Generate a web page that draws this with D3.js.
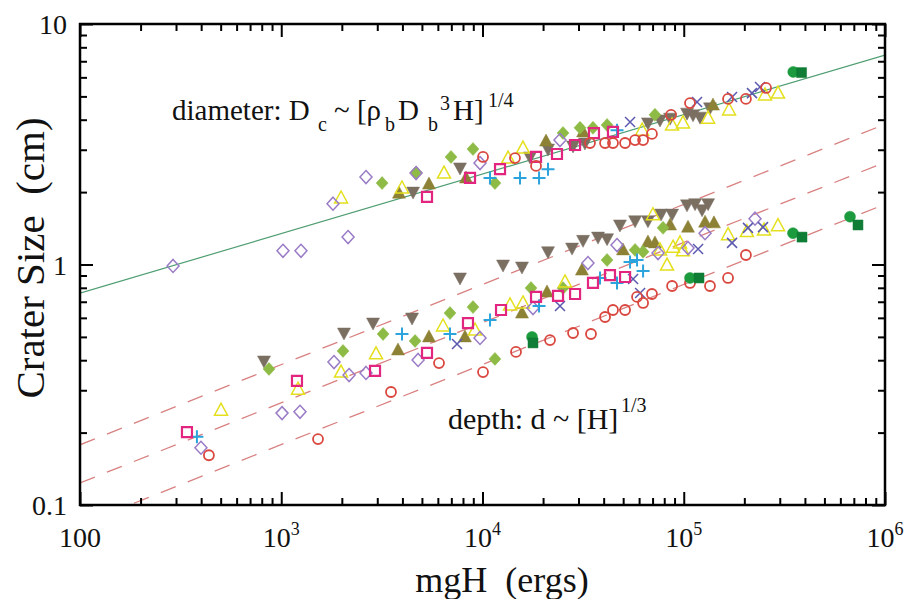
<!DOCTYPE html>
<html lang="en">
<head>
<meta charset="utf-8">
<title>Crater Size</title>
<style type="text/css">
  body { margin: 0; background: #fff; }
  svg text { font-family: "Liberation Serif", "Times New Roman", serif; fill: #111; white-space: pre; }
</style>
</head>
<body>
<svg id="chart" width="906" height="599"></svg>

<script src="https://cdnjs.cloudflare.com/ajax/libs/d3/7.8.5/d3.min.js"></script>
<script type="text/javascript">
// axis setup
var xMajor = [100, 1e3, 1e4, 1e5, 1e6];
var xTickBase = ["100", "10", "10", "10", "10"];
var xTickExp = ["", "3", "4", "5", "6"];
var yMajor = [0.1, 1, 10];
var yTickLabels = ["0.1", "1", "10"];

// fit lines, end points [mgH, size]
var fitDiameter = [[100, 0.76], [1e6, 7.43]];
var fitDepthA = [[100, 0.178], [1e6, 3.83]];
var fitDepthB = [[100, 0.1235], [1e6, 2.66]];
var fitDepthC = [[100, 0.0828], [1e6, 1.78]];

// data: [mgH (ergs), size (cm)]
var redCircleDiam = [[10060,2.80],[14500,2.77],[18450,2.57],[34200,3.20],[40640,3.20],[44500,3.20],[51100,3.20],[57300,3.29],[62800,3.29],[69500,3.49],[86500,4.19],[107400,4.69],[166000,4.88],[203700,4.88],[256400,5.42]];
var redCircleDepth = [[437,0.161],[1523,0.188],[3510,0.295],[6080,0.389],[10060,0.357],[14670,0.433],[21650,0.485],[28180,0.519],[34600,0.514],[40640,0.605],[44500,0.647],[51100,0.647],[58600,0.733],[62800,0.692],[69500,0.754],[87500,0.814],[107400,0.838],[135000,0.814],[166000,0.879],[203700,1.095]];

var magentaSqDiam = [[5300,1.91],[8670,2.29],[12220,2.49],[18450,2.80],[23450,2.88],[28840,3.14],[35800,3.52],[44500,3.56]];
var magentaSqDepth = [[340,0.201],[1197,0.328],[2924,0.361],[5300,0.429],[8470,0.571],[12360,0.647],[18450,0.733],[23730,0.740],[28840,0.754],[35400,0.838],[43000,0.904],[51100,0.887]];

var cyanPlusDiam = [[10900,2.29],[15360,2.29],[19100,2.29],[21160,2.49],[46600,3.62]];
var cyanPlusDepth = [[381,0.192],[3981,0.514],[6895,0.514],[10900,0.588],[19100,0.672],[38370,0.879],[46600,0.838],[54100,1.024],[58600,1.044],[62800,0.940]];

var blueXDiam = [[54100,3.91],[116400,4.74],[173800,4.97],[218300,5.16],[239300,5.47]];
var blueXDepth = [[7470,0.467],[24270,0.672],[56000,0.871],[60700,0.761],[117800,1.16],[173800,1.23],[208500,1.42],[247700,1.43]];

var purpleDiamondDiam = [[290,0.986],[1020,1.14],[1253,1.14],[2148,1.30],[1808,1.79],[2637,2.31],[4677,2.40],[9720,2.64],[24270,3.29]];
var purpleDiamondDepth = [[399,0.173],[1009,0.241],[1239,0.244],[1828,0.393],[2173,0.347],[2637,0.354],[4786,0.401],[9720,0.495],[17820,0.659],[33420,1.014],[46600,1.205],[74500,1.116],[105000,1.17],[127600,1.35],[226000,1.55]];

var yellowTriDiam = [[1982,1.89],[3981,2.08],[6440,2.40],[13400,2.77],[15890,3.05],[62100,3.62],[87500,3.80],[99100,3.88],[132100,4.06],[167900,4.39],[253300,5.07],[294000,5.16]];
var yellowTriDepth = [[502,0.248],[1211,0.303],[1982,0.357],[2958,0.425],[6368,0.555],[9180,0.534],[13700,0.679],[15890,0.692],[25700,0.846],[70300,1.61],[76200,1.15],[82600,0.995],[88500,1.18],[95800,1.23],[99100,1.14],[166000,1.33],[206000,1.37],[250600,1.39],[294000,1.45]];

var oliveTriDiam = [[3846,1.98],[5420,2.16],[8280,2.29],[20690,3.26],[31600,3.56],[139700,4.60]];
var oliveTriDepth = [[3802,0.441],[5420,0.500],[8180,0.500],[15710,0.628],[20920,0.769],[31200,0.948],[49900,1.15],[66400,1.24],[71940,1.23],[85500,1.46],[105000,1.43],[127600,1.50],[141300,1.49]];

var grayDownDiam = [[4519,2.00],[7730,2.52],[17220,2.80],[21160,3.02],[28180,3.11],[32300,3.20],[66400,3.88],[76200,3.99],[85500,4.06],[103800,4.26],[111200,4.19],[120500,4.10],[135000,4.48]];
var grayDownDepth = [[821,0.397],[2050,0.519],[2858,0.571],[4467,0.599],[7730,0.879],[12650,0.995],[15710,0.976],[21160,1.13],[27860,1.17],[31600,1.26],[37500,1.30],[41590,1.28],[48200,1.46],[57300,1.52],[66400,1.52],[77100,1.62],[87500,1.62],[103800,1.77],[113800,1.79],[123300,1.69],[132100,1.79]];

var greenDiamondDiam = [[3170,2.18],[4677,2.41],[6975,2.80],[8970,3.02],[11530,2.18],[25120,3.52],[30520,3.70],[35400,3.70],[41590,3.80],[71940,4.19]];
var greenDiamondDepth = [[869,0.368],[2027,0.437],[3206,0.514],[4624,0.481],[6895,0.628],[8970,0.665],[11530,0.405],[17420,0.798],[25120,0.798],[41590,1.044],[57300,1.15],[62800,1.13],[78900,1.42]];

var greenCircleDiam = [[350000,6.32]];
var greenCircleDepth = [[17620,0.500],[107400,0.879],[349000,1.35],[670000,1.58]];
var greenSquareDiam = [[385000,6.28]];
var greenSquareDepth = [[17820,0.472],[119100,0.879],[387000,1.30],[734000,1.46]];

var series = [
  {shape: "tridown", color: "#7b6f62", fill: true, pts: grayDownDiam.concat(grayDownDepth)},
  {shape: "triup", color: "#8c8134", fill: true, pts: oliveTriDiam.concat(oliveTriDepth)},
  {shape: "diamond", color: "#8dbb45", fill: true, pts: greenDiamondDiam.concat(greenDiamondDepth)},
  {shape: "triup", color: "#e4e01e", fill: false, pts: yellowTriDiam.concat(yellowTriDepth)},
  {shape: "diamond", color: "#9a7cc6", fill: false, pts: purpleDiamondDiam.concat(purpleDiamondDepth)},
  {shape: "x", color: "#5b58b0", fill: false, pts: blueXDiam.concat(blueXDepth)},
  {shape: "plus", color: "#2ba3dc", fill: false, pts: cyanPlusDiam.concat(cyanPlusDepth)},
  {shape: "square", color: "#e2267f", fill: false, pts: magentaSqDiam.concat(magentaSqDepth)},
  {shape: "circle", color: "#d9473f", fill: false, pts: redCircleDiam.concat(redCircleDepth)},
  {shape: "circle", color: "#1c9b3e", fill: true, pts: greenCircleDiam.concat(greenCircleDepth)},
  {shape: "square", color: "#0f7d35", fill: true, pts: greenSquareDiam.concat(greenSquareDepth)}
];

var svg = d3.select("#chart");
var pLeft = 80, pRight = 885, pTop = 24, pBottom = 505;

var x = d3.scaleLog().domain([100, 1e6]).range([pLeft, pRight]);
var y = d3.scaleLog().domain([0.1, 10]).range([pBottom, pTop]);

svg.append("clipPath").attr("id", "plotclip")
  .append("rect").attr("x", pLeft).attr("y", pTop)
  .attr("width", pRight - pLeft).attr("height", pBottom - pTop);

var line = d3.line().x(function (d) { return x(d[0]); }).y(function (d) { return y(d[1]); });

var fits = svg.append("g").attr("clip-path", "url(#plotclip)");
[fitDepthA, fitDepthB, fitDepthC].forEach(function (f) {
  fits.append("path").attr("d", line(f))
    .attr("fill", "none").attr("stroke", "#d98080")
    .attr("stroke-width", 1.3).attr("stroke-dasharray", "16,13");
});
fits.append("path").attr("d", line(fitDiameter))
  .attr("fill", "none").attr("stroke", "#4f9e72").attr("stroke-width", 1.2);

function shapePath(s) {
  if (s == "square") return "M-5,-5H5V5H-5Z";
  if (s == "diamond") return "M0,-6.5L6,0L0,6.5L-6,0Z";
  if (s == "triup") return "M0,-7L6.5,5L-6.5,5Z";
  if (s == "tridown") return "M0,7L6.5,-5L-6.5,-5Z";
  if (s == "plus") return "M-6.5,0H6.5M0,-6.5V6.5";
  if (s == "x") return "M-5,-5L5,5M5,-5L-5,5";
  return "";
}

var marks = svg.append("g");
series.forEach(function (s) {
  var g = marks.append("g");
  if (s.shape == "circle") {
    g.selectAll("circle").data(s.pts).enter().append("circle")
      .attr("cx", function (d) { return x(d[0]); })
      .attr("cy", function (d) { return y(d[1]); })
      .attr("r", s.fill ? 5.5 : 5)
      .attr("fill", s.fill ? s.color : "none")
      .attr("stroke", s.color).attr("stroke-width", s.fill ? 0.5 : 1.8);
  } else {
    g.selectAll("path").data(s.pts).enter().append("path")
      .attr("d", shapePath(s.shape))
      .attr("transform", function (d) { return "translate(" + x(d[0]) + "," + y(d[1]) + ")"; })
      .attr("fill", s.fill ? s.color : "none")
      .attr("stroke", s.color)
      .attr("stroke-width", s.fill ? 0.5 : (s.shape == "square" ? 2.2 : (s.shape == "plus" ? 2 : 1.5)));
  }
});

// ticks, inside on all four sides
var xMinor = x.ticks().filter(function (v) { return xMajor.indexOf(v) < 0; });
var yMinor = y.ticks().filter(function (v) { return yMajor.indexOf(v) < 0; });

function tickAxis(axis, vals, size, tx, ty) {
  var g = svg.append("g").attr("transform", "translate(" + tx + "," + ty + ")")
    .call(axis.tickValues(vals).tickSize(size).tickFormat(""));
  g.select(".domain").remove();
  g.selectAll(".tick line").attr("stroke", "#000").attr("stroke-width", 2);
}
tickAxis(d3.axisBottom(x), xMajor, -13, 0, pBottom);
tickAxis(d3.axisBottom(x), xMinor, -7, 0, pBottom);
tickAxis(d3.axisTop(x), xMajor, -13, 0, pTop);
tickAxis(d3.axisTop(x), xMinor, -7, 0, pTop);
tickAxis(d3.axisLeft(y), yMajor, -13, pLeft, 0);
tickAxis(d3.axisLeft(y), yMinor, -7, pLeft, 0);
tickAxis(d3.axisRight(y), yMajor, -13, pRight, 0);
tickAxis(d3.axisRight(y), yMinor, -7, pRight, 0);

svg.append("rect").attr("x", pLeft).attr("y", pTop)
  .attr("width", pRight - pLeft).attr("height", pBottom - pTop)
  .attr("fill", "none").attr("stroke", "#000").attr("stroke-width", 2.5);

// tick labels
xMajor.forEach(function (v, i) {
  var t = svg.append("text").attr("x", x(v)).attr("y", 547)
    .attr("text-anchor", "middle").style("font-size", "28px");
  t.append("tspan").text(xTickBase[i]);
  if (xTickExp[i]) t.append("tspan").attr("dy", -12).style("font-size", "18px").text(xTickExp[i]);
});
yMajor.forEach(function (v, i) {
  svg.append("text").attr("x", 67).attr("y", y(v) + 10)
    .attr("text-anchor", "end").style("font-size", "28px").text(yTickLabels[i]);
});

// axis titles
svg.append("text").attr("x", 502).attr("y", 592).attr("text-anchor", "middle")
  .style("font-size", "36px").text("mgH  (ergs)");
svg.append("text").attr("transform", "translate(44,258) rotate(-90)")
  .attr("text-anchor", "middle").style("font-size", "41px").text("Crater Size  (cm)");

// annotations
var ann = svg.append("text").style("font-size", "29px");
ann.append("tspan").attr("x", 172).attr("y", 120).text("diameter: D");
ann.append("tspan").attr("x", 318).attr("y", 131).style("font-size", "20px").text("c");
ann.append("tspan").attr("x", 334).attr("y", 120).text("~ [ρ");
ann.append("tspan").attr("x", 385).attr("y", 131).style("font-size", "20px").text("b");
ann.append("tspan").attr("x", 398).attr("y", 120).text("D");
ann.append("tspan").attr("x", 428).attr("y", 131).style("font-size", "20px").text("b");
ann.append("tspan").attr("x", 440).attr("y", 110).style("font-size", "20px").text("3");
ann.append("tspan").attr("x", 453).attr("y", 120).text("H]");
ann.append("tspan").attr("x", 488).attr("y", 107).style("font-size", "20px").text("1/4");

var ann2 = svg.append("text").style("font-size", "30px");
ann2.append("tspan").attr("x", 448).attr("y", 429).text("depth: d ~ [H]");
ann2.append("tspan").attr("x", 621).attr("y", 412).style("font-size", "20px").text("1/3");
</script>
</body>
</html>
